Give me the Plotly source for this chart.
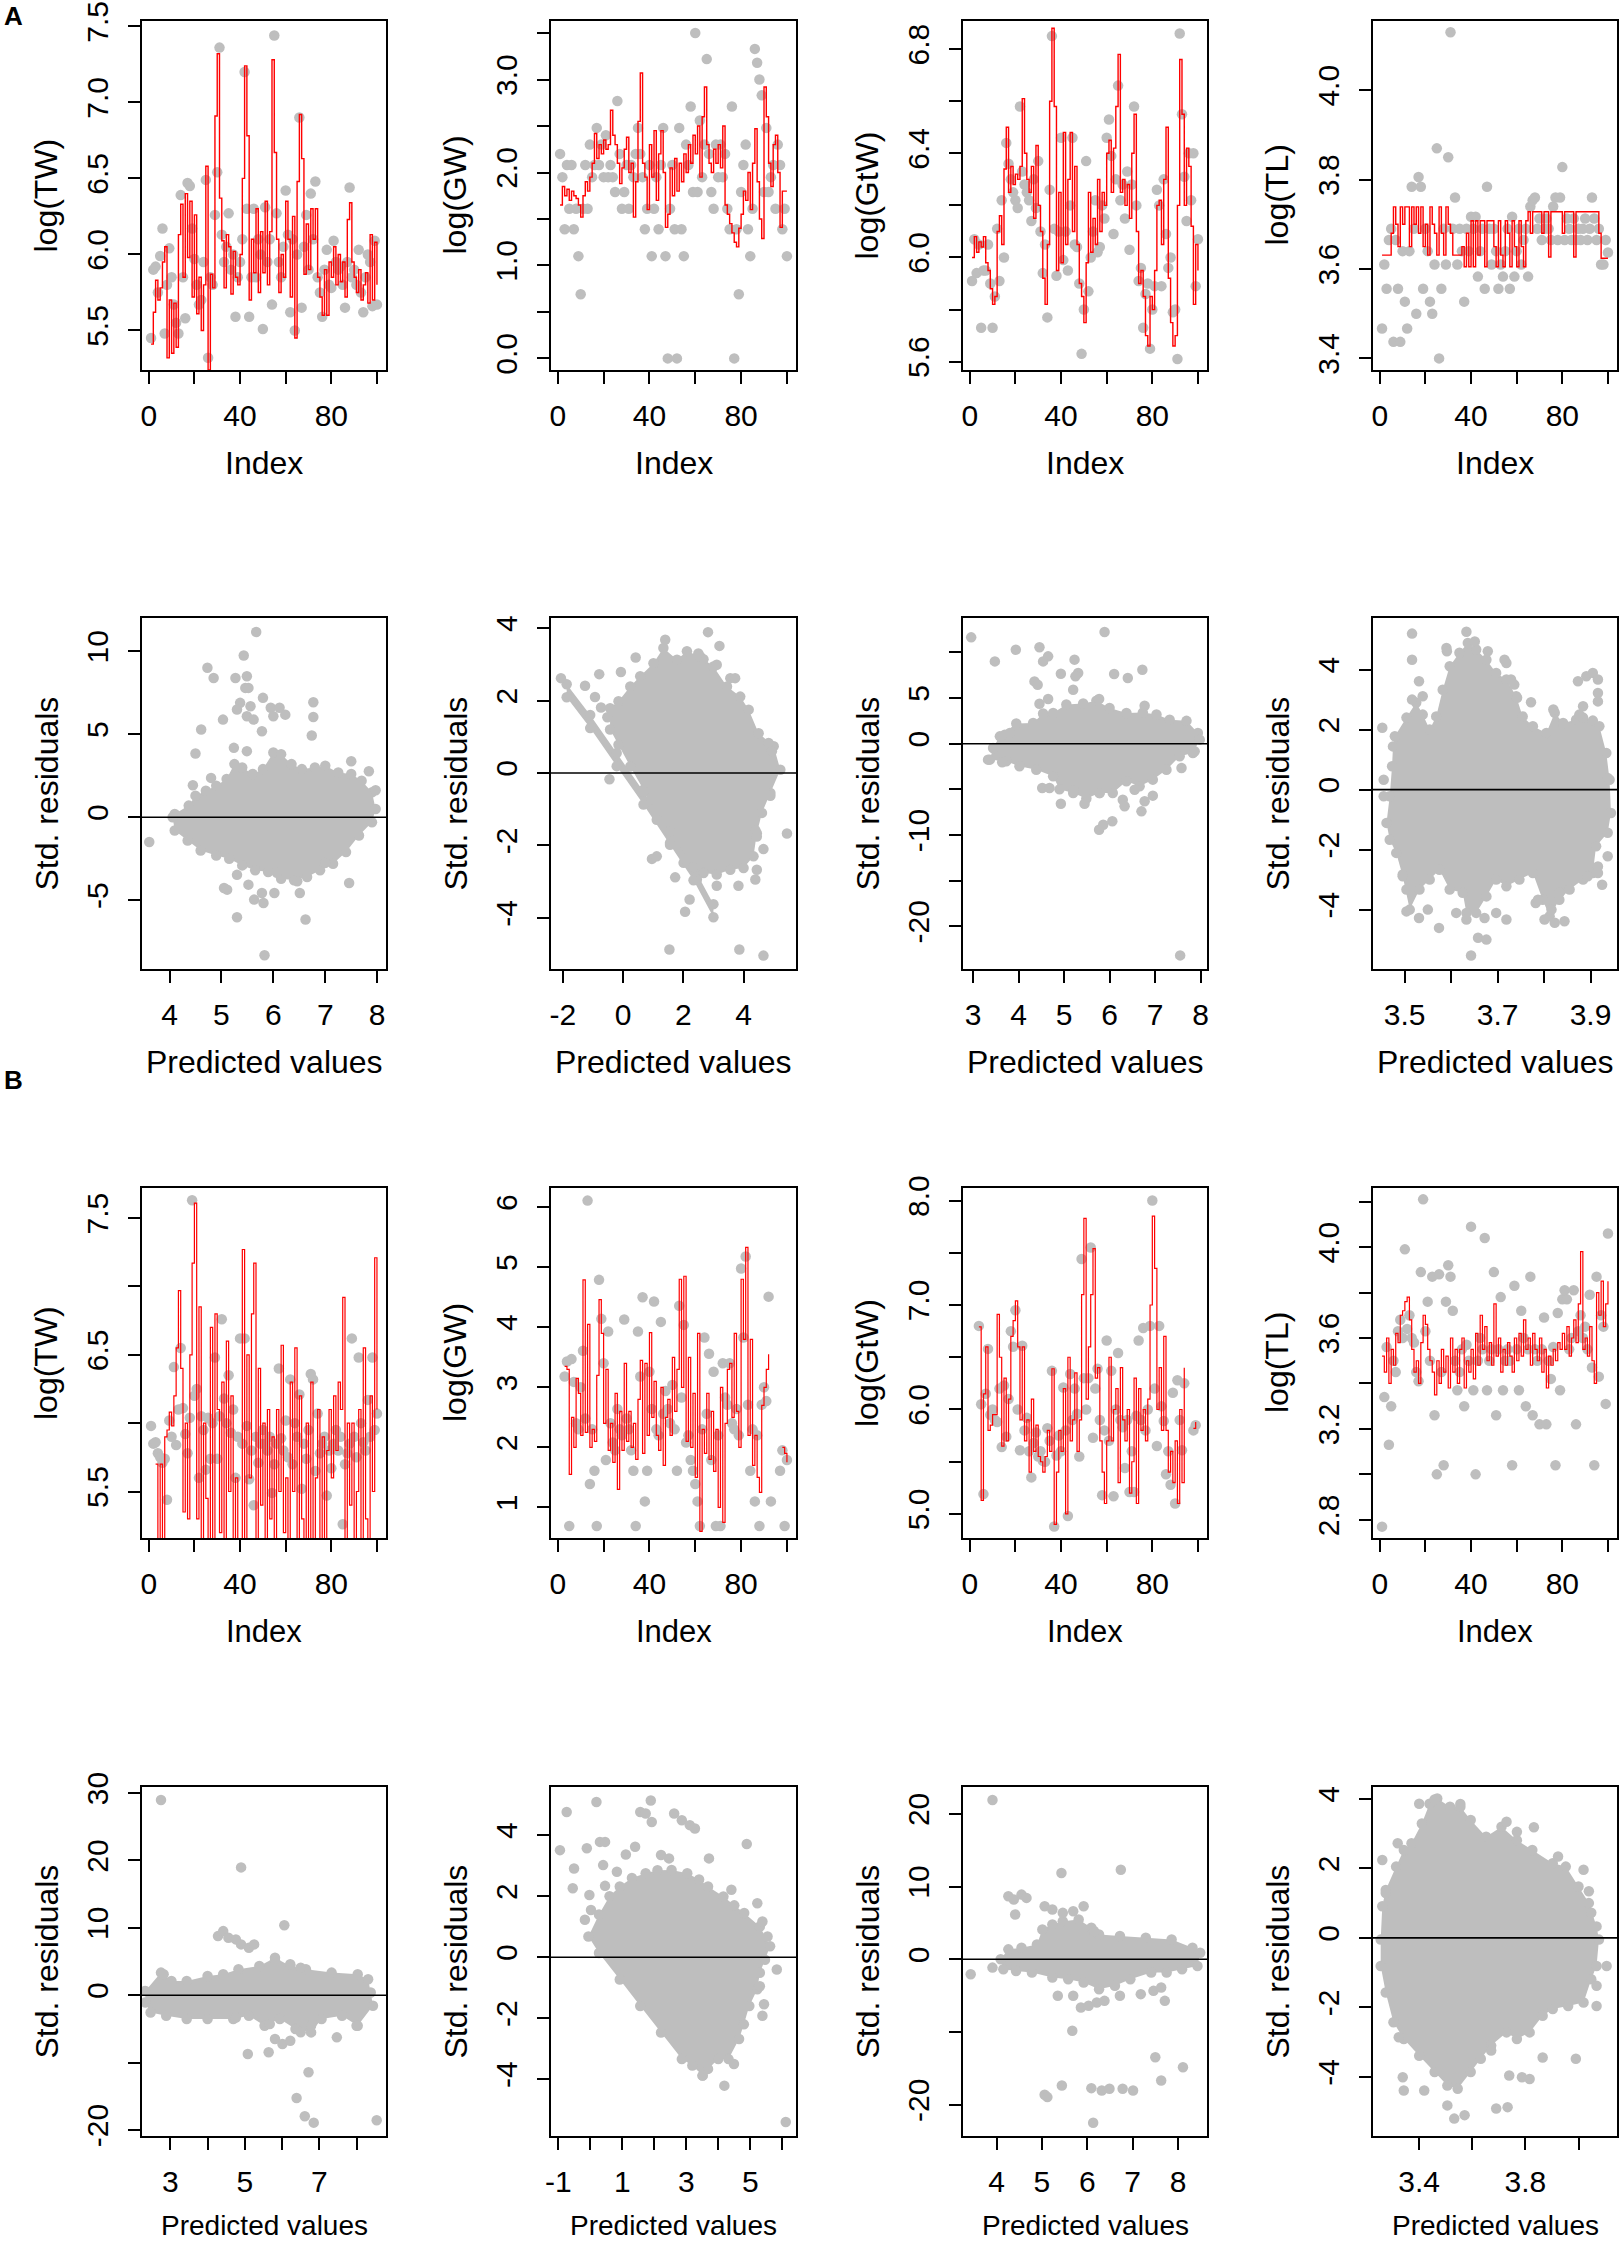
import plotly.graph_objects as go

# ---------------- data ----------------
IDX = list(range(1, 101))

A1_GREY = [5.45,5.90,5.92,5.75,5.99,6.17,5.48,5.80,6.04,5.85,
           5.67,5.55,5.48,6.39,5.85,5.58,6.47,6.45,6.17,5.97,
           5.80,5.67,5.70,5.95,6.49,5.32,5.85,5.80,6.26,6.54,
           7.36,6.13,5.95,6.05,6.27,5.90,6.00,5.59,5.85,5.95,
           6.10,7.20,6.30,5.59,5.85,6.30,5.85,6.10,6.00,5.51,
           6.31,5.95,6.10,5.67,7.44,6.27,5.95,5.85,6.05,6.42,
           6.13,5.62,6.10,5.50,6.00,6.90,5.65,6.05,6.26,5.90,
           6.40,6.10,6.48,5.85,5.75,5.59,5.90,6.03,5.80,5.78,
           6.09,5.95,5.90,5.92,5.80,5.65,5.95,6.44,5.85,5.90,
           5.80,6.03,5.75,5.62,5.85,6.00,5.95,5.66,6.09,5.67]
A1_RED = [5.41,5.62,5.83,5.70,5.78,5.95,6.05,5.32,5.70,5.35,
          5.68,5.39,6.13,6.33,5.85,6.40,5.98,6.35,5.72,6.26,
          5.61,5.85,5.50,5.80,6.58,5.24,5.87,5.78,6.91,7.32,
          6.37,6.09,5.78,6.13,6.05,5.74,6.02,5.85,5.80,6.00,
          6.50,7.24,6.78,5.70,6.10,5.88,6.30,5.75,6.15,5.88,
          6.35,5.80,6.15,7.28,6.67,6.10,5.75,6.00,5.85,6.35,
          6.10,5.72,6.25,5.45,6.48,6.92,6.63,5.87,6.20,5.90,
          6.30,6.10,6.30,5.85,5.72,5.60,5.90,5.60,5.95,5.85,
          6.05,5.80,6.00,5.82,5.95,5.72,6.23,6.34,5.95,5.85,
          5.75,5.90,5.70,5.80,5.88,5.68,6.13,5.70,6.08,5.80]

A2_GREY = [2.20,1.95,1.39,2.08,1.61,2.08,1.39,1.61,1.10,0.69,
           1.61,2.08,1.61,2.30,1.95,2.08,2.48,2.08,2.30,1.95,
           2.40,1.95,2.08,1.95,1.79,2.77,2.20,1.61,1.79,2.08,
           1.61,2.08,1.95,2.20,2.48,2.20,1.95,1.39,1.61,2.08,
           1.10,1.61,1.95,1.39,2.08,2.48,1.10,0.00,1.61,2.08,
           1.39,0.00,2.48,1.39,1.10,2.30,2.08,2.71,1.79,3.50,
           1.79,2.56,1.95,2.30,3.22,2.20,1.79,1.61,2.30,1.95,
           2.30,1.95,2.20,1.61,1.39,2.71,0.00,1.39,0.69,1.79,
           2.08,2.30,1.39,1.10,1.61,3.33,3.18,3.00,2.83,1.79,
           2.48,1.79,1.95,2.08,1.61,2.30,2.08,1.39,1.61,1.10]
A2_RED = [1.65,1.85,1.75,1.82,1.70,1.80,1.75,1.72,1.65,1.52,
          1.75,1.90,1.80,1.95,2.10,2.42,2.15,2.30,2.20,2.35,
          2.25,2.30,2.67,2.40,2.30,2.10,1.88,2.05,2.25,2.38,
          2.00,2.10,1.52,1.90,2.55,3.07,2.10,1.95,1.60,2.30,
          1.95,2.45,1.70,2.20,2.45,2.00,1.41,1.55,2.05,1.75,
          2.15,1.80,2.10,1.90,2.20,2.00,2.30,2.10,2.40,2.20,
          2.50,1.95,2.60,2.92,2.30,2.10,2.00,2.25,2.10,2.30,
          2.05,2.50,1.65,1.55,1.45,1.35,1.25,1.20,1.40,1.55,
          1.80,1.70,2.00,1.60,2.10,2.47,1.90,1.50,1.29,2.92,
          2.60,2.10,1.85,2.30,2.40,2.00,1.41,1.80,1.80,1.80]

A3_GREY = [5.91,6.07,5.94,6.05,5.73,5.95,5.95,6.05,5.90,5.73,
           5.85,6.11,5.91,6.22,6.00,6.44,6.36,6.30,6.25,6.22,
           6.19,6.58,6.33,6.28,6.25,6.22,6.14,6.30,6.19,6.37,
           6.10,5.94,6.05,5.77,6.26,6.85,6.11,5.93,6.10,6.46,
           5.99,6.10,5.95,6.20,6.46,6.05,6.04,5.90,5.63,5.80,
           6.37,5.87,6.00,6.10,6.22,6.02,6.04,6.20,6.15,6.46,
           6.53,6.39,6.09,6.30,6.66,6.22,6.28,6.15,6.33,6.03,
           6.28,6.58,6.20,5.91,5.96,5.73,5.86,5.90,5.65,5.80,
           5.89,6.26,6.20,5.89,6.30,6.09,5.96,6.00,5.79,5.80,
           5.61,6.86,6.55,6.31,6.14,6.40,6.22,6.40,5.89,6.07]
A3_RED = [6.00,6.08,6.02,6.06,6.04,6.08,5.98,5.95,5.88,5.82,
          5.85,6.10,6.16,6.05,6.34,6.50,6.25,6.35,6.28,6.32,
          6.30,6.35,6.61,6.40,6.30,6.25,6.35,6.15,6.43,6.20,
          6.10,5.92,5.82,6.05,6.60,6.88,6.58,5.95,6.25,5.98,
          6.48,6.05,6.30,6.48,6.10,6.35,6.05,5.90,5.85,5.75,
          5.98,6.25,6.02,6.15,6.05,6.30,6.10,6.25,6.20,6.40,
          6.45,6.25,6.42,6.58,6.78,6.25,6.30,6.20,6.28,6.15,
          6.40,6.55,6.10,5.90,5.95,5.85,5.70,5.66,5.85,5.80,
          5.95,6.20,6.22,6.05,6.30,6.50,5.92,5.75,5.66,5.70,
          6.20,6.76,6.55,6.20,6.42,6.35,6.12,5.82,6.05,5.95]

A4_GREY = [3.467,3.61,3.556,3.665,3.69,3.437,3.665,3.556,3.437,3.64,
           3.527,3.467,3.64,3.784,3.69,3.50,3.806,3.784,3.556,3.69,
           3.64,3.527,3.50,3.61,3.87,3.40,3.556,3.69,3.61,3.85,
           4.13,3.69,3.76,3.61,3.69,3.64,3.527,3.69,3.64,3.717,
           3.69,3.717,3.583,3.64,3.69,3.556,3.784,3.69,3.61,3.69,
           3.64,3.556,3.61,3.583,3.64,3.69,3.556,3.717,3.583,3.64,
           3.69,3.61,3.665,3.69,3.583,3.74,3.754,3.76,3.69,3.713,
           3.665,3.69,3.713,3.69,3.665,3.74,3.76,3.665,3.76,3.828,
           3.665,3.713,3.69,3.665,3.713,3.665,3.69,3.665,3.69,3.713,
           3.665,3.69,3.76,3.713,3.665,3.69,3.61,3.61,3.665,3.637]
A4_RED = [3.631,3.631,3.631,3.631,3.68,3.739,3.70,3.65,3.739,3.70,
          3.739,3.739,3.65,3.739,3.70,3.739,3.68,3.739,3.65,3.70,
          3.631,3.739,3.70,3.68,3.631,3.739,3.68,3.631,3.739,3.70,
          3.68,3.631,3.631,3.631,3.631,3.65,3.605,3.68,3.605,3.708,
          3.605,3.708,3.631,3.708,3.708,3.605,3.708,3.708,3.708,3.65,
          3.605,3.708,3.631,3.605,3.708,3.68,3.605,3.708,3.65,3.605,
          3.708,3.65,3.605,3.708,3.728,3.68,3.728,3.728,3.728,3.728,
          3.68,3.728,3.728,3.627,3.728,3.728,3.728,3.728,3.728,3.68,
          3.728,3.728,3.728,3.728,3.627,3.728,3.728,3.728,3.728,3.728,
          3.728,3.728,3.728,3.728,3.728,3.68,3.624,3.624,3.624,3.624]

B1_GREY = [5.98,5.85,5.86,5.78,5.75,5.71,5.74,5.44,6.02,5.90,
           6.41,5.84,6.10,6.55,6.11,5.92,5.78,6.04,7.63,6.20,
           6.25,5.60,6.05,5.95,5.66,6.04,5.74,6.00,6.48,5.74,
           6.05,6.76,6.18,6.00,6.35,5.93,6.10,5.60,5.90,6.62,
           5.85,6.62,5.98,5.59,5.80,5.40,5.90,5.71,5.85,5.95,
           5.85,5.80,5.90,5.49,5.70,5.85,6.40,5.89,5.80,6.02,
           5.75,6.32,5.70,6.00,5.90,6.21,5.52,5.85,5.74,5.95,
           6.36,6.32,5.65,6.07,5.78,5.85,5.90,5.47,5.80,5.67,
           5.85,5.95,5.80,5.90,5.26,5.70,5.78,5.85,6.62,5.90,
           5.75,6.48,6.00,5.86,5.80,6.17,5.90,6.48,5.95,6.07]
B1_RED = [None,None,5.70,5.00,5.70,5.00,5.90,5.95,6.08,5.98,
          6.20,6.55,6.97,6.40,5.35,6.00,5.30,6.50,7.17,7.61,
          5.30,6.85,5.00,6.00,5.45,5.00,6.70,5.00,6.80,6.10,
          5.20,6.30,5.00,6.60,5.50,6.20,5.00,5.60,5.00,5.00,
          7.27,5.00,6.50,5.60,6.80,7.17,5.00,6.40,5.40,6.00,
          5.00,6.10,5.30,5.90,5.00,6.10,5.50,6.57,5.20,5.60,
          5.00,6.30,5.50,6.55,5.00,6.20,5.30,5.00,6.00,5.00,
          6.30,5.00,5.60,6.10,5.00,5.90,5.00,5.80,6.10,5.60,
          6.20,5.80,6.30,6.10,6.92,5.00,6.00,5.40,6.00,5.00,
          5.50,6.10,5.00,6.55,5.30,5.00,6.20,5.50,7.21,6.10]

B2_GREY = [None,None,3.18,3.43,0.69,3.47,3.09,2.40,2.30,3.00,
           3.61,2.48,6.11,1.39,2.30,1.61,0.69,4.79,4.14,3.40,
           1.79,3.93,2.40,2.08,1.95,2.64,2.30,2.20,4.13,2.48,
           2.30,1.95,1.61,0.69,3.93,3.18,4.50,1.10,1.61,3.26,
           2.64,4.43,2.30,2.20,4.09,2.56,2.94,2.64,2.40,3.04,
           2.30,1.61,4.36,2.83,4.04,2.08,2.20,1.79,1.61,1.39,
           1.10,0.69,2.30,3.83,2.56,3.56,1.79,3.26,0.69,2.20,
           0.69,3.40,2.83,2.71,3.40,2.40,2.30,2.64,2.20,4.98,
           3.83,5.18,2.71,1.61,2.30,1.10,2.20,0.69,2.71,3.00,
           2.77,4.51,1.10,None,None,None,1.61,1.95,0.69,1.79]
B2_RED = [None,None,3.35,3.30,1.55,2.50,2.00,3.15,2.90,2.20,
          4.79,2.25,4.05,2.00,2.30,2.10,3.20,4.46,3.90,2.40,
          3.30,1.95,2.40,1.75,2.90,1.30,2.60,1.95,3.40,2.10,
          2.60,2.00,2.40,1.80,2.80,3.45,1.90,3.40,2.20,3.91,
          2.50,3.10,2.20,1.95,3.00,1.70,2.50,2.80,2.20,3.50,
          2.60,3.30,4.80,3.00,4.85,2.10,3.50,2.00,2.90,1.50,
          3.90,0.60,2.30,1.90,2.90,1.80,2.60,1.60,2.30,1.00,
          3.00,0.75,2.40,3.30,3.40,2.50,3.90,2.60,2.00,4.80,
          3.80,5.33,2.20,3.80,1.70,2.20,1.50,1.25,2.70,3.00,
          3.30,3.55,None,None,None,None,None,2.00,1.90,1.75]

B3_GREY = [None,None,None,6.80,6.05,5.19,6.15,6.58,5.95,6.00,
           5.90,5.88,6.20,5.64,6.23,5.74,6.10,6.75,6.60,6.95,
           6.00,5.61,6.61,5.80,5.92,5.60,5.35,5.68,5.78,5.55,
           5.60,5.51,5.50,5.82,5.70,6.37,4.88,5.56,5.75,5.60,
           6.21,5.80,4.98,6.34,5.90,6.20,5.96,5.55,7.44,6.30,
           6.00,6.30,7.55,5.73,6.20,6.39,5.90,5.18,5.80,6.66,
           5.70,6.37,5.17,6.00,6.54,5.90,5.83,5.44,5.90,5.21,
           5.60,5.21,5.94,6.66,5.90,6.78,5.80,6.00,6.80,8.00,
           6.20,5.65,6.80,6.03,5.89,5.38,5.60,5.28,6.16,5.10,
           6.28,5.90,5.61,6.25,None,None,None,5.80,5.85,None]
B3_RED = [None,None,None,6.79,5.13,6.15,6.60,5.80,5.85,5.95,
          5.95,6.91,6.50,5.65,6.30,5.70,6.10,6.70,6.85,7.04,
          6.60,5.90,6.60,5.70,5.90,5.40,6.10,5.60,5.85,5.55,
          5.50,5.40,5.55,5.80,5.60,6.39,4.90,5.40,5.80,5.60,
          6.20,5.00,6.50,5.70,5.90,6.35,5.60,5.90,7.10,7.83,
          6.10,6.60,7.10,7.54,6.30,6.40,5.70,5.40,5.10,5.70,
          6.50,5.70,6.00,6.20,5.30,6.40,5.90,5.70,6.00,5.20,
          5.50,6.30,5.10,6.20,5.80,6.00,5.70,6.10,7.00,7.85,
          7.35,6.00,6.40,5.80,6.70,5.80,5.40,5.60,5.30,5.70,
          5.10,6.00,5.30,6.40,None,None,None,5.82,5.88,None]

B4_GREY = [2.77,3.34,3.56,3.13,3.30,3.50,3.45,3.63,3.68,3.60,
           3.99,3.64,3.70,3.60,3.58,3.45,3.41,3.89,4.21,3.63,
           3.76,3.50,3.87,3.26,3.00,3.88,3.45,3.04,3.76,3.92,
           3.87,3.72,3.50,3.37,3.45,3.55,3.30,3.57,3.50,4.09,
           3.37,3.00,3.50,3.60,3.55,4.04,3.37,3.50,3.55,3.89,
           3.26,3.55,3.78,3.37,3.50,3.55,3.50,3.04,3.83,3.55,
           3.37,3.72,3.60,3.30,3.55,3.87,3.26,3.55,3.50,3.22,
           3.55,3.69,3.22,3.50,3.42,3.56,3.04,3.71,3.37,3.77,
           3.81,3.77,3.55,3.60,3.81,3.22,3.63,3.70,3.60,3.65,
           3.55,3.79,3.47,3.04,3.87,3.43,3.70,3.65,3.31,4.06]
B4_RED = [3.52,3.45,3.60,3.40,3.55,3.48,3.62,3.58,3.70,3.72,
          3.76,3.78,3.68,3.55,3.45,3.50,3.40,3.58,3.70,3.66,
          3.55,3.50,3.45,3.35,3.50,3.40,3.55,3.45,3.52,3.38,
          3.60,3.45,3.55,3.40,3.55,3.60,3.38,3.50,3.45,3.55,
          3.42,3.62,3.48,3.70,3.55,3.65,3.50,3.58,3.48,3.75,
          3.52,3.60,3.45,3.55,3.48,3.58,3.52,3.45,3.60,3.50,
          3.62,3.52,3.68,3.55,3.60,3.48,3.62,3.55,3.50,3.60,
          3.45,3.55,3.38,3.52,3.48,3.55,3.50,3.58,3.55,3.62,
          3.55,3.65,3.52,3.60,3.68,3.58,3.75,3.98,3.55,3.60,
          3.52,3.65,3.50,3.40,3.80,3.70,3.85,3.65,3.75,3.85]

# residual panels: outline of the dense point cloud (x, y) and the separate points
A5_CLOUD = [(4.10,0.2),(4.37,0.7),(4.50,1.3),(4.70,1.6),(4.90,1.9),(5.10,2.3),(5.25,3.2),(5.40,3.0),
            (5.60,2.6),(5.80,2.9),(6.00,3.9),(6.15,3.8),(6.35,3.2),(6.55,2.9),(6.80,3.0),(7.00,3.1),
            (7.25,2.7),(7.50,2.6),(7.70,2.2),(7.90,1.5),(7.97,0.5),(7.90,-0.3),(7.65,-1.1),(7.40,-2.1),
            (7.15,-2.8),(6.90,-3.2),(6.65,-3.6),(6.40,-3.8),(6.15,-3.7),(5.90,-3.3),(5.65,-3.2),(5.40,-2.9),
            (5.15,-2.5),(4.90,-2.3),(4.60,-2.0),(4.35,-1.4),(4.10,-0.8),(4.06,0.0)]
A5_OUT = [(3.61,-1.49),(5.67,11.16),(5.43,9.74),(4.73,9.00),(4.85,8.39),(5.27,8.39),(5.49,8.49),(5.46,7.79),
          (5.52,7.79),(5.80,7.19),(5.36,6.89),(5.56,6.69),(5.30,6.49),(5.49,6.08),(5.62,5.88),(5.95,6.59),
          (6.12,6.59),(6.23,6.18),(6.00,6.08),(6.77,6.93),(6.77,6.04),(6.74,4.92),(5.03,5.88),(4.61,5.28),
          (5.78,5.18),(4.50,3.84),(4.45,1.93),(4.80,2.37),(5.24,4.18),(5.49,3.98),(7.50,3.37),(7.84,2.77),
          (7.97,1.63),(7.46,-3.96),(5.11,-4.36),(5.05,-4.26),(5.30,-3.47),(5.52,-4.06),(5.63,-4.96),
          (5.81,-5.16),(5.78,-4.56),(5.30,-6.02),(6.02,-4.56),(6.51,-4.56),(6.62,-6.16),(5.83,-8.31),
          (6.07,-3.35),(6.46,-3.86),(7.00,-2.75)]

A6_CLOUD = [(-0.43,1.79),(-0.15,1.98),(0.24,2.39),(0.57,2.67),(1.01,3.03),(1.34,3.45),(1.79,3.13),(2.12,3.36),
            (2.56,3.22),(3.00,2.94),(3.45,2.39),(3.89,2.11),(4.17,1.75),(4.50,1.10),(5.00,0.74),(5.22,0.09),
            (4.89,-0.55),(4.61,-1.10),(4.44,-1.66),(4.33,-2.30),(4.00,-2.62),(3.56,-2.67),(3.11,-2.80),
            (2.67,-2.76),(2.45,-2.94),(2.01,-2.48),(1.56,-1.93),(1.12,-1.29),(0.68,-0.46),(0.24,0.18),
            (-0.15,0.78),(-0.43,1.20)]
A6_BAND = [(-1.87,2.45),(-1.09,1.60),(-0.21,0.55),(0.68,-0.51),(1.56,-1.62),(2.34,-2.60),(3.00,-3.62),
           (3.00,-3.98),(2.34,-2.96),(1.56,-1.98),(0.68,-0.87),(-0.21,0.19),(-1.09,1.24),(-1.87,2.09)]
A6_OUT = [(-2.06,2.62),(-1.26,2.41),(-0.79,2.73),(-0.07,2.79),(0.42,3.19),(1.40,3.68),(-0.93,2.10),
          (-0.73,1.81),(-0.52,1.54),(2.82,3.89),(3.20,3.51),(2.67,3.14),(2.50,3.30),(3.11,2.99),(3.56,2.62),
          (3.72,2.62),(4.83,0.83),(4.94,0.60),(4.89,-0.63),(5.44,-1.67),(4.39,-1.58),(4.44,-1.75),
          (4.66,-2.10),(4.44,-2.67),(4.39,-2.94),(3.83,-3.11),(3.11,-3.11),(1.73,-2.88),(2.21,-3.49),
          (2.06,-3.83),(0.96,-2.37),(1.12,-2.30),(-0.45,-0.17),(1.54,-4.87),(3.86,-4.87),(4.66,-5.04)]

A7_CLOUD = [(3.44,-0.47),(3.59,0.8),(3.95,2.2),(4.32,2.26),(4.54,3.3),(4.76,3.36),(5.05,4.3),(5.42,4.4),
            (5.71,4.7),(6.00,3.9),(6.37,3.36),(6.73,3.4),(7.03,3.2),(7.32,2.63),(7.69,2.5),(7.94,1.17),
            (7.98,0.44),(7.83,-1.02),(7.54,-1.39),(7.25,-2.85),(6.95,-3.94),(6.66,-4.67),(6.37,-4.12),
            (6.07,-5.40),(5.78,-5.40),(5.49,-6.0),(5.20,-5.40),(4.90,-5.0),(4.76,-3.58),(4.39,-2.85),
            (4.02,-2.48),(3.73,-1.93),(3.37,-1.75)]
A7_OUT = [(2.96,11.64),(3.48,9.01),(3.94,10.29),(4.46,10.55),(4.65,9.56),(4.54,9.01),(5.23,9.20),(4.93,7.66),
          (5.31,7.74),(5.25,7.37),(4.35,6.82),(4.42,6.45),(5.20,5.91),(5.89,12.23),(6.10,7.63),(6.40,7.19),
          (6.72,8.10),(4.46,4.38),(4.65,4.89),(5.77,4.89),(6.77,4.16),(3.70,0.99),(3.81,1.17),(3.33,-1.75),
          (3.64,-2.04),(4.52,-4.85),(4.68,-4.85),(4.93,-6.57),(5.45,-6.57),(5.21,-5.11),(5.78,-5.40),
          (6.29,-6.13),(6.33,-6.86),(6.55,-5.04),(6.70,-7.41),(6.77,-6.31),(6.95,-5.69),(5.77,-9.42),
          (5.86,-8.87),(6.06,-8.50),(7.58,-2.66),(7.87,-0.84),(7.55,-23.18)]

A8_CLOUD = [(3.475,1.44),(3.479,1.78),(3.504,2.40),(3.525,2.90),(3.539,2.50),(3.554,2.0),(3.568,2.44),
            (3.582,3.33),(3.597,4.11),(3.618,4.56),(3.636,4.89),(3.654,4.67),(3.676,4.33),(3.697,3.89),
            (3.719,3.67),(3.740,3.11),(3.754,2.44),(3.776,2.11),(3.805,1.89),(3.823,2.56),(3.841,2.22),
            (3.869,2.33),(3.884,2.40),(3.905,2.30),(3.919,2.11),(3.934,1.22),(3.941,0.33),(3.944,-0.78),
            (3.937,-1.44),(3.912,-1.89),(3.905,-2.78),(3.884,-3.0),(3.855,-3.33),(3.833,-3.67),(3.812,-4.22),
            (3.797,-3.67),(3.776,-2.78),(3.747,-3.0),(3.719,-3.22),(3.697,-3.0),(3.676,-3.56),(3.654,-4.11),
            (3.633,-4.11),(3.625,-3.44),(3.597,-3.33),(3.575,-2.67),(3.554,-3.0),(3.532,-3.33),(3.511,-4.0),
            (3.496,-2.89),(3.482,-2.11),(3.468,-1.67),(3.461,-1.11),(3.468,-0.22),(3.473,0.78)]
A8_OUT = [(3.452,2.06),(3.455,0.33),(3.455,-0.22),(3.516,5.2),(3.516,4.33),(3.531,3.61),(3.516,3.0),
          (3.539,3.11),(3.590,4.72),(3.591,4.61),(3.633,5.26),(3.651,4.94),(3.679,4.61),(3.715,4.33),
          (3.719,4.22),(3.729,3.67),(3.736,3.50),(3.742,3.06),(3.772,2.91),(3.820,2.67),(3.873,3.61),
          (3.891,3.78),(3.905,3.89),(3.916,3.67),(3.916,3.22),(3.916,2.94),(3.876,2.5),(3.884,2.78),
          (3.937,0.39),(3.937,-2.22),(3.916,-2.56),(3.916,-2.78),(3.894,-2.89),(3.925,-3.17),(3.833,-3.44),
          (3.782,-3.78),(3.787,-3.67),(3.801,-4.33),(3.823,-4.44),(3.844,-4.39),(3.816,-4.0),(3.697,-4.11),
          (3.719,-4.33),(3.672,-4.28),(3.658,-4.94),(3.676,-5.0),(3.643,-5.53),(3.633,-4.33),(3.611,-4.11),
          (3.574,-4.61),(3.531,-4.28),(3.550,-4.0),(3.504,-4.06),(3.504,-3.33),(3.496,-2.83)]

B5_CLOUD = [(2.33,0.64),(2.75,3.35),(3.03,2.12),(3.44,2.12),(4.00,2.86),(4.42,3.10),(4.83,3.84),(5.39,4.33),
            (5.81,5.57),(6.22,4.33),(6.64,3.84),(7.33,3.35),(8.03,3.10),(8.31,2.36),(8.38,0.39),(8.44,-1.58),
            (8.03,-4.53),(7.61,-3.05),(7.06,-3.55),(6.78,-5.52),(6.36,-5.02),(5.94,-3.55),(5.53,-4.53),
            (5.11,-3.05),(4.69,-3.55),(4.00,-3.55),(3.44,-3.55),(2.89,-3.05),(2.47,-2.56),(2.33,-1.08)]
B5_OUT = [(2.75,28.97),(4.90,18.97),(6.06,10.39),(4.28,8.77),(4.42,9.51),(4.56,8.52),(4.76,8.28),(4.90,7.54),
          (5.11,7.04),(5.25,7.54),(5.81,5.07),(6.22,4.58),(6.50,4.09),(2.82,3.10),(4.76,-3.30),(5.67,-4.29),
          (5.81,-6.50),(6.01,-7.24),(6.22,-6.75),(5.08,-8.72),(5.64,-8.47),(6.50,-5.50),(6.78,-4.50),
          (7.47,-6.26),(8.00,-4.53),(6.71,-11.43),(6.39,-15.27),(6.61,-17.98),(6.85,-18.92),(8.54,-18.57)]

B6_CLOUD = [(-0.06,0.68),(0.27,1.40),(0.60,2.00),(0.92,2.32),(1.30,2.60),(1.73,2.75),(2.10,2.85),(2.54,2.86),
            (3.03,2.75),(3.40,2.55),(3.68,2.32),(4.16,1.99),(4.50,1.70),(4.81,1.45),(5.30,1.01),(5.62,0.36),
            (5.46,-0.08),(5.30,-0.51),(5.22,-1.05),(4.97,-1.60),(4.80,-2.20),(4.65,-2.68),(4.32,-3.34),
            (4.00,-3.34),(3.68,-3.66),(3.51,-3.88),(3.19,-3.55),(2.86,-3.34),(2.21,-2.47),(1.56,-1.60),
            (0.92,-0.73),(0.27,0.14)]
B6_OUT = [(-0.95,3.51),(-0.74,4.76),(-0.51,2.91),(-0.55,2.26),(-0.11,3.57),(0.19,5.09),(0.30,3.78),(0.46,3.78),
          (-0.03,2.04),(-0.17,1.23),(0.02,1.55),(0.40,3.02),(0.46,2.34),(0.83,2.80),(1.11,3.37),(1.40,3.62),
          (1.56,4.76),(1.73,4.71),(1.92,4.43),(1.89,5.14),(2.62,4.71),(2.86,4.49),(3.11,4.33),(3.27,4.22),
          (2.21,3.35),(2.46,3.24),(3.71,3.24),(4.89,3.71),(4.41,2.21),(5.22,1.77),(5.38,1.17),(5.54,0.68),
          (5.83,-0.40),(5.30,-0.95),(5.43,-1.54),(5.38,-1.92),(4.49,-3.50),(4.19,-4.21),(3.51,-3.88),
          (6.11,-5.40)]

B7_CLOUD = [(4.09,0.0),(4.26,1.37),(4.55,1.60),(4.89,2.05),(5.01,4.11),(5.23,4.80),(5.46,5.25),(5.81,5.48),
            (6.09,4.34),(6.26,3.42),(6.72,3.20),(7.29,2.97),(7.86,2.74),(8.32,1.60),(8.49,0.91),(8.43,-0.91),
            (8.09,-1.37),(7.75,-1.83),(7.41,-1.83),(6.95,-2.74),(6.61,-3.65),(6.26,-4.11),(5.92,-3.20),
            (5.58,-2.74),(5.23,-2.51),(4.78,-1.83),(4.43,-1.60),(4.15,-1.37)]
B7_OUT = [(3.43,-2.05),(3.91,21.92),(3.91,-1.14),(4.26,8.68),(4.38,8.22),(4.55,8.90),(4.66,8.45),(4.41,6.16),
          (5.06,7.31),(5.23,6.85),(5.46,6.39),(5.69,6.62),(5.92,7.31),(5.43,11.87),(6.74,12.33),(6.15,3.88),
          (5.35,-5.02),(5.69,-5.02),(5.86,-6.62),(6.03,-6.39),(6.21,-5.94),(6.38,-5.71),(6.72,-5.02),
          (7.18,-4.79),(7.46,-4.34),(7.63,-3.88),(7.71,-5.71),(5.67,-9.82),(7.50,-13.47),(8.11,-14.84),
          (7.63,-16.67),(5.44,-17.35),(5.06,-18.63),(5.12,-18.95),(6.09,-17.72),(6.32,-18.04),(6.49,-17.81),
          (6.78,-17.81),(7.01,-18.04),(6.13,-22.47)]

B8_CLOUD = [(3.255,-0.05),(3.261,0.91),(3.274,1.38),(3.313,2.05),(3.342,2.53),(3.371,2.72),(3.410,3.29),
            (3.439,3.86),(3.468,4.01),(3.516,3.77),(3.555,3.77),(3.594,3.39),(3.652,2.91),(3.710,3.20),
            (3.768,2.81),(3.826,2.53),(3.903,2.15),(3.952,2.05),(4.000,1.48),(4.039,1.00),(4.068,0.33),
            (4.077,-0.05),(4.068,-0.81),(4.048,-1.19),(4.019,-1.86),(3.961,-1.96),(3.903,-2.05),(3.865,-2.24),
            (3.816,-2.72),(3.768,-2.91),(3.729,-2.72),(3.671,-3.10),(3.632,-3.48),(3.594,-3.86),(3.545,-4.34),
            (3.506,-4.25),(3.458,-3.86),(3.400,-3.39),(3.342,-2.91),(3.303,-2.43),(3.274,-1.57),(3.255,-0.81)]
B8_OUT = [(3.261,2.24),(3.274,1.29),(3.319,2.72),(3.400,3.86),(3.458,3.98),(3.555,3.85),(3.729,3.34),
          (3.768,3.05),(3.832,3.18),(3.923,2.34),(4.019,1.96),(4.039,1.34),(4.048,0.72),(4.106,-0.81),
          (4.068,-1.38),(4.068,-1.96),(3.990,-3.48),(3.865,-3.44),(3.816,-4.06),(3.787,-4.01),(3.739,-3.96),
          (3.690,-4.91),(3.733,-4.87),(3.532,-5.20),(3.571,-5.10),(3.506,-4.82),(3.419,-4.39),(3.342,-4.39),
          (3.338,-4.01),(3.323,-2.86),(3.671,-3.24)]

# tick labels
IDX_TICKS = [0, 20, 40, 60, 80, 100]
IDX_TICKTEXT = ["0", "", "40", "", "80", ""]

# ---------------- layout geometry ----------------
W, H = 1620, 2243
COLS = [(142, 386), (551, 796), (963, 1207), (1373, 1617)]
ROWS = [(21, 370), (618, 969), (1188, 1538), (1787, 2136)]
GREY = "#BEBEBE"
RED = "#FF0000"
FA = "Liberation Sans, Arial, sans-serif"
FB = "Liberation Sans, Arial, sans-serif"

IDXR = [-2.96, 103.96]
PANELS = [
    dict(r=0, c=0, kind="idx", grey=A1_GREY, red=A1_RED, ylab="log(TW)", yr=[5.24, 7.535],
         yt=[5.5, 6.0, 6.5, 7.0, 7.5], ytl=["5.5", "6.0", "6.5", "7.0", "7.5"], font=FA, lw=1.4, xs=32, ys=32),
    dict(r=0, c=1, kind="idx", grey=A2_GREY, red=A2_RED, ylab="log(GW)", yr=[-0.125, 3.63],
         yt=[0, 0.5, 1, 1.5, 2, 2.5, 3, 3.5], ytl=["0.0", "", "1.0", "", "2.0", "", "3.0", ""], font=FA, lw=1.4, xs=32, ys=32),
    dict(r=0, c=2, kind="idx", grey=A3_GREY, red=A3_RED, ylab="log(GtW)", yr=[5.568, 6.908],
         yt=[5.6, 5.8, 6.0, 6.2, 6.4, 6.6, 6.8], ytl=["5.6", "", "6.0", "", "6.4", "", "6.8"], font=FA, lw=1.4, xs=32, ys=32),
    dict(r=0, c=3, kind="idx", grey=A4_GREY, red=A4_RED, ylab="log(TL)", yr=[3.374, 4.155],
         yt=[3.4, 3.6, 3.8, 4.0], ytl=["3.4", "3.6", "3.8", "4.0"], font=FA, lw=1.4, xs=32, ys=32),
    dict(r=1, c=0, kind="res", clouds=[A5_CLOUD], out=A5_OUT, xr=[3.47, 8.17], xt=[4, 5, 6, 7, 8],
         xtl=["4", "5", "6", "7", "8"], yr=[-9.14, 12.0], yt=[-5, 0, 5, 10], ytl=["-5", "0", "5", "10"],
         font=FA, xs=32, ys=32),
    dict(r=1, c=1, kind="res", clouds=[A6_CLOUD, A6_BAND], out=A6_OUT, xr=[-2.39, 5.74], xt=[-2, 0, 2, 4],
         xtl=["-2", "0", "2", "4"], yr=[-5.41, 4.28], yt=[-4, -2, 0, 2, 4], ytl=["-4", "-2", "0", "2", "4"],
         font=FA, xs=32, ys=32),
    dict(r=1, c=2, kind="res", clouds=[A7_CLOUD], out=A7_OUT, xr=[2.78, 8.14], xt=[3, 4, 5, 6, 7, 8],
         xtl=["3", "4", "5", "6", "7", "8"], yr=[-24.67, 13.76], yt=[-20, -15, -10, -5, 0, 5, 10],
         ytl=["-20", "", "-10", "", "0", "5", ""], font=FA, xs=32, ys=32),
    dict(r=1, c=3, kind="res", clouds=[A8_CLOUD], out=A8_OUT, xr=[3.432, 3.957], xt=[3.5, 3.6, 3.7, 3.8, 3.9],
         xtl=["3.5", "", "3.7", "", "3.9"], yr=[-5.98, 5.72], yt=[-4, -2, 0, 2, 4], ytl=["-4", "-2", "0", "2", "4"],
         font=FA, xs=32, ys=32),
    dict(r=2, c=0, kind="idx", grey=B1_GREY, red=B1_RED, ylab="log(TW)", yr=[5.16, 7.72],
         yt=[5.5, 6.0, 6.5, 7.0, 7.5], ytl=["5.5", "", "6.5", "", "7.5"], font=FB, lw=1.2, xs=31, ys=32),
    dict(r=2, c=1, kind="idx", grey=B2_GREY, red=B2_RED, ylab="log(GW)", yr=[0.49, 6.32],
         yt=[1, 2, 3, 4, 5, 6], ytl=["1", "2", "3", "4", "5", "6"], font=FB, lw=1.2, xs=31, ys=32),
    dict(r=2, c=2, kind="idx", grey=B3_GREY, red=B3_RED, ylab="log(GtW)", yr=[4.77, 8.12],
         yt=[5.0, 5.5, 6.0, 6.5, 7.0, 7.5, 8.0], ytl=["5.0", "", "6.0", "", "7.0", "", "8.0"], font=FB, lw=1.2, xs=31, ys=32),
    dict(r=2, c=3, kind="idx", grey=B4_GREY, red=B4_RED, ylab="log(TL)", yr=[2.72, 4.26],
         yt=[2.8, 3.0, 3.2, 3.4, 3.6, 3.8, 4.0, 4.2], ytl=["2.8", "", "3.2", "", "3.6", "", "4.0", ""],
         font=FB, lw=1.2, xs=31, ys=32),
    dict(r=3, c=0, kind="res", clouds=[B5_CLOUD], out=B5_OUT, xr=[2.24, 8.79], xt=[3, 4, 5, 6, 7, 8],
         xtl=["3", "", "5", "", "7", ""], yr=[-20.9, 30.9], yt=[-20, -10, 0, 10, 20, 30],
         ytl=["-20", "", "0", "10", "20", "30"], font=FB, xs=28, ys=32),
    dict(r=3, c=1, kind="res", clouds=[B6_CLOUD], out=B6_OUT, xr=[-1.23, 6.43], xt=[-1, 0, 1, 2, 3, 4, 5, 6],
         xtl=["-1", "", "1", "", "3", "", "5", ""], yr=[-5.86, 5.58], yt=[-4, -2, 0, 2, 4],
         ytl=["-4", "-2", "0", "2", "4"], font=FB, xs=28, ys=32),
    dict(r=3, c=2, kind="res", clouds=[B7_CLOUD], out=B7_OUT, xr=[3.26, 8.64], xt=[4, 5, 6, 7, 8],
         xtl=["4", "5", "6", "7", "8"], yr=[-24.3, 23.7], yt=[-20, -10, 0, 10, 20],
         ytl=["-20", "", "0", "10", "20"], font=FB, xs=28, ys=32),
    dict(r=3, c=3, kind="res", clouds=[B8_CLOUD], out=B8_OUT, xr=[3.226, 4.145], xt=[3.4, 3.6, 3.8, 4.0],
         xtl=["3.4", "", "3.8", ""], yr=[-5.70, 4.34], yt=[-4, -2, 0, 2, 4], ytl=["-4", "-2", "0", "2", "4"],
         font=FB, xs=28, ys=32),
]

TICK_SIZE = 30
MS = 10.5

fig = go.Figure()
layout = {}
annotations = []
shapes = []

for n, p in enumerate(PANELS, start=1):
    xa = "x" if n == 1 else f"x{n}"
    ya = "y" if n == 1 else f"y{n}"
    xkey = "xaxis" if n == 1 else f"xaxis{n}"
    ykey = "yaxis" if n == 1 else f"yaxis{n}"
    c0, c1 = COLS[p["c"]]
    r0, r1 = ROWS[p["r"]]
    font = p["font"]

    if p["kind"] == "idx":
        fig.add_trace(go.Scatter(x=IDX, y=p["grey"], mode="markers", xaxis=xa, yaxis=ya,
                                 marker=dict(color=GREY, size=MS, line=dict(width=0)),
                                 showlegend=False, hoverinfo="skip"))
        fig.add_trace(go.Scatter(x=IDX, y=p["red"], mode="lines", xaxis=xa, yaxis=ya,
                                 line=dict(color=RED, width=p["lw"], shape="hv"), connectgaps=False,
                                 showlegend=False, hoverinfo="skip"))
        xr, xt, xtl = IDXR, IDX_TICKS, IDX_TICKTEXT
        xlab, ylab = "Index", p["ylab"]
    else:
        for cloud in p["clouds"]:
            fig.add_trace(go.Scatter(x=[q[0] for q in cloud], y=[q[1] for q in cloud],
                                     mode="markers", fill="toself", fillcolor=GREY,
                                     xaxis=xa, yaxis=ya,
                                     marker=dict(color=GREY, size=MS, line=dict(width=0)),
                                     showlegend=False, hoverinfo="skip"))
        fig.add_trace(go.Scatter(x=[q[0] for q in p["out"]], y=[q[1] for q in p["out"]],
                                 mode="markers", xaxis=xa, yaxis=ya,
                                 marker=dict(color=GREY, size=MS, line=dict(width=0)),
                                 showlegend=False, hoverinfo="skip"))
        shapes.append(dict(type="line", xref=f"{xa} domain", x0=0, x1=1, yref=ya, y0=0, y1=0,
                           line=dict(color="black", width=1.6), layer="above"))
        xr, xt, xtl = p["xr"], p["xt"], p["xtl"]
        xlab, ylab = "Predicted values", "Std. residuals"

    common = dict(showline=True, linecolor="black", linewidth=1.5, mirror=True,
                  ticks="outside", ticklen=12, tickwidth=1.5, tickcolor="black",
                  showgrid=False, zeroline=False, automargin=False, fixedrange=True,
                  ticklabeloverflow="allow",
                  tickfont=dict(family=font, size=TICK_SIZE, color="black"), tickmode="array")
    layout[xkey] = dict(common, domain=[c0 / W, c1 / W], anchor=ya, range=xr,
                        tickvals=xt, ticktext=xtl, ticklabelstandoff=6)
    layout[ykey] = dict(common, domain=[1 - r1 / H, 1 - r0 / H], anchor=xa, range=p["yr"],
                        tickvals=p["yt"], ticktext=p["ytl"], tickangle=-90, ticklabelstandoff=8)

    if p["r"] == 3:
        annotations.append(dict(text=xlab, x=(c0 + c1) / 2 / W, y=0, xref="paper", yref="paper",
                                showarrow=False, xanchor="center", yanchor="bottom",
                                font=dict(family=font, size=p["xs"], color="black")))
    else:
        annotations.append(dict(text=xlab, x=(c0 + c1) / 2 / W, y=1 - (r1 + 93) / H, xref="paper", yref="paper",
                                showarrow=False, xanchor="center", yanchor="middle",
                                font=dict(family=font, size=p["xs"], color="black")))
    annotations.append(dict(text=ylab, x=(c0 - 96) / W, y=1 - ((r0 + r1) / 2) / H, xref="paper", yref="paper",
                            showarrow=False, xanchor="center", yanchor="middle", textangle=-90,
                            font=dict(family=font, size=p["ys"], color="black")))

annotations.append(dict(text="<b>A</b>", x=2 / W, y=1 - 16 / H, xref="paper", yref="paper", showarrow=False,
                        xanchor="left", yanchor="middle", font=dict(family=FA, size=26, color="black")))
annotations.append(dict(text="<b>B</b>", x=2 / W, y=1 - 1080 / H, xref="paper", yref="paper", showarrow=False,
                        xanchor="left", yanchor="middle", font=dict(family=FA, size=26, color="black")))

fig.update_layout(width=W, height=H, margin=dict(l=0, r=0, t=0, b=0), autosize=False,
                  paper_bgcolor="white", plot_bgcolor="white", showlegend=False,
                  annotations=annotations, shapes=shapes, **layout)

fig.write_html("out.html", config={"displayModeBar": False},
               post_script="document.body.style.margin='0';document.body.style.padding='0';"
                           "document.documentElement.style.overflow='hidden';"
                           "document.body.style.overflow='hidden';")
